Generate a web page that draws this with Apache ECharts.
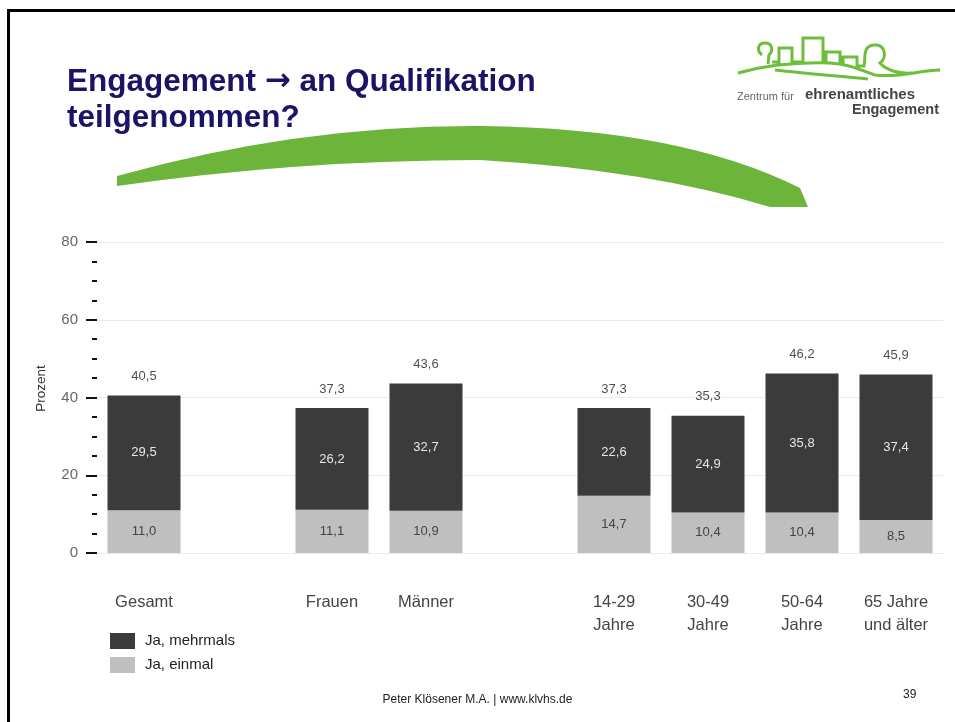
<!DOCTYPE html>
<html>
<head>
    <meta charset="utf-8">
    <style>
        html, body { margin: 0; padding: 0; background: #fff; }
        #chart-container { width: 955px; height: 722px; }
    </style>
</head>
<body>
    <div id="chart-container"></div>

    <script type="text/javascript" src="https://cdn.jsdelivr.net/npm/echarts@6/dist/echarts.min.js"></script>
    <script type="text/javascript">
        // chart data (empty slots keep the gaps between the groups)
        var categories = ['Gesamt', '', 'Frauen', 'Männer', '', '14-29\nJahre', '30-49\nJahre', '50-64\nJahre', '65 Jahre\nund älter'];
        var einmal    = [11.0, null, 11.1, 10.9, null, 14.7, 10.4, 10.4, 8.5];
        var mehrmals  = [29.5, null, 26.2, 32.7, null, 22.6, 24.9, 35.8, 37.4];
        var gesamt    = [40.5, null, 37.3, 43.6, null, 37.3, 35.3, 46.2, 45.9];
        var seriesNames = ['Ja, mehrmals', 'Ja, einmal'];

        var font = '"Liberation Sans", Arial, sans-serif';

        function deNum(v) {
            return v == null ? '' : v.toFixed(1).replace('.', ',');
        }

        // slide decoration: green swoosh + logo line art
        var swooshPath = 'M117,176 Q300,125 480,126 Q680,128 800,188 L808,207 L770,207 Q650,170 480,160 Q300,160 117,186 Z';
        var logoPath = 'M738,73 C770,64 800,62 830,63 C850,64 860,70 875,75 C900,78 920,70 940,70 ' +
            'M775,70 C810,74 840,76 868,79 ' +
            'M772,62 L779,62 L779,48 L792,48 L792,62 L803,62 L803,38 L823,38 L823,62 L826,62 L826,52 L840,52 L840,63 L843,63 L843,57 L857,57 L857,66 L864,66 C866,58 862,46 874,45 C886,44 887,58 880,63 C886,70 898,74 912,73 ' +
            'M762,55 C756,50 758,43 765,43 C772,43 774,50 769,55 L768,64';

        function renderDeco() {
            return {
                type: 'group',
                children: [
                    { type: 'path', shape: { pathData: swooshPath }, style: { fill: '#6db43a' } },
                    { type: 'path', shape: { pathData: logoPath }, style: { fill: null, stroke: '#6cbf3a', lineWidth: 3 } }
                ]
            };
        }

        var chartDom = document.getElementById('chart-container');
        var myChart = echarts.init(chartDom, null, { renderer: 'canvas' });

        var option = {
            animation: false,
            backgroundColor: '#fff',
            textStyle: { fontFamily: font },
            title: {
                text: 'Engagement {a|\u2192} an Qualifikation\nteilgenommen?',
                left: 62,
                top: 59,
                textStyle: {
                    fontFamily: font,
                    fontSize: 31.5,
                    fontWeight: 'bold',
                    color: '#1b1366',
                    lineHeight: 36,
                    rich: {
                        a: { fontFamily: '"DejaVu Sans"', fontSize: 31, fontWeight: 'bold', color: '#1b1366', lineHeight: 36 }
                    }
                }
            },
            legend: {
                data: seriesNames,
                orient: 'vertical',
                left: 105,
                top: 628,
                itemWidth: 25,
                itemHeight: 16,
                itemGap: 8,
                icon: 'rect',
                textStyle: { fontFamily: font, fontSize: 15, color: '#222', padding: [0, 0, 0, 5] }
            },
            grid: { left: 97, right: 12, top: 242, bottom: 169 },
            xAxis: {
                type: 'category',
                data: categories,
                axisLine: { show: false },
                axisTick: { show: false },
                axisLabel: {
                    interval: 0,
                    margin: 38,
                    fontSize: 16.5,
                    lineHeight: 23,
                    color: '#444'
                }
            },
            yAxis: {
                type: 'value',
                min: 0,
                max: 80,
                interval: 20,
                name: 'Prozent',
                nameLocation: 'middle',
                nameGap: 49,
                nameTextStyle: { fontSize: 13.5, color: '#333', padding: [0, 0, 0, 18] },
                axisLine: { show: false },
                axisTick: { show: true, length: 11, lineStyle: { color: '#111', width: 2 } },
                minorTick: { show: true, splitNumber: 4, length: 5, lineStyle: { color: '#111', width: 2 } },
                axisLabel: { fontSize: 15, color: '#666', margin: 19 },
                splitLine: { lineStyle: { color: '#ebebeb', width: 1 } }
            },
            series: [
                {
                    name: 'Ja, einmal',
                    type: 'bar',
                    stack: 'q',
                    barWidth: 73,
                    data: einmal,
                    itemStyle: { color: '#bfbfbf' },
                    label: {
                        show: true,
                        position: 'inside',
                        fontSize: 13,
                        color: '#444',
                        formatter: function (p) { return deNum(p.value); }
                    }
                },
                {
                    name: 'Ja, mehrmals',
                    type: 'bar',
                    stack: 'q',
                    barWidth: 73,
                    data: mehrmals,
                    itemStyle: { color: '#3b3b3b' },
                    label: {
                        show: true,
                        position: 'inside',
                        fontSize: 13,
                        color: '#e6e6e6',
                        formatter: function (p) { return deNum(p.value); }
                    }
                },
                {
                    // totals written above each bar
                    name: 'Gesamt',
                    type: 'scatter',
                    data: gesamt,
                    symbolSize: 1,
                    itemStyle: { color: 'rgba(0,0,0,0)' },
                    label: {
                        show: true,
                        position: 'top',
                        distance: 12,
                        fontSize: 13,
                        color: '#222',
                        formatter: function (p) { return deNum(p.value); }
                    },
                    z: 5
                },
                {
                    name: 'deco',
                    type: 'custom',
                    coordinateSystem: 'none',
                    silent: true,
                    data: [0],
                    renderItem: renderDeco,
                    z: 1
                }
            ],
            graphic: [
                // slide frame (left and top edges visible)
                {
                    type: 'rect',
                    shape: { x: 8.5, y: 10.5, width: 1100, height: 1100 },
                    style: { fill: 'none', stroke: '#000', lineWidth: 3 }
                },
                {
                    type: 'text',
                    left: 737,
                    top: 91,
                    style: { text: 'Zentrum für', fontFamily: font, fontSize: 11, fill: '#666' }
                },
                {
                    type: 'text',
                    left: 805,
                    top: 87,
                    style: { text: 'ehrenamtliches', fontFamily: font, fontSize: 15, fontWeight: 'bold', fill: '#444' }
                },
                {
                    type: 'text',
                    right: 16,
                    top: 102,
                    style: { text: 'Engagement', fontFamily: font, fontSize: 14.5, fontWeight: 'bold', fill: '#444' }
                },
                // footer
                {
                    type: 'text',
                    left: 'center',
                    top: 694,
                    style: { text: 'Peter Klösener M.A. | www.klvhs.de', fontFamily: font, fontSize: 12, fill: '#222' }
                },
                {
                    type: 'text',
                    left: 903,
                    top: 689,
                    style: { text: '39', fontFamily: font, fontSize: 12, fill: '#222' }
                }
            ]
        };
        myChart.setOption(option);
    </script>
</body>
</html>
